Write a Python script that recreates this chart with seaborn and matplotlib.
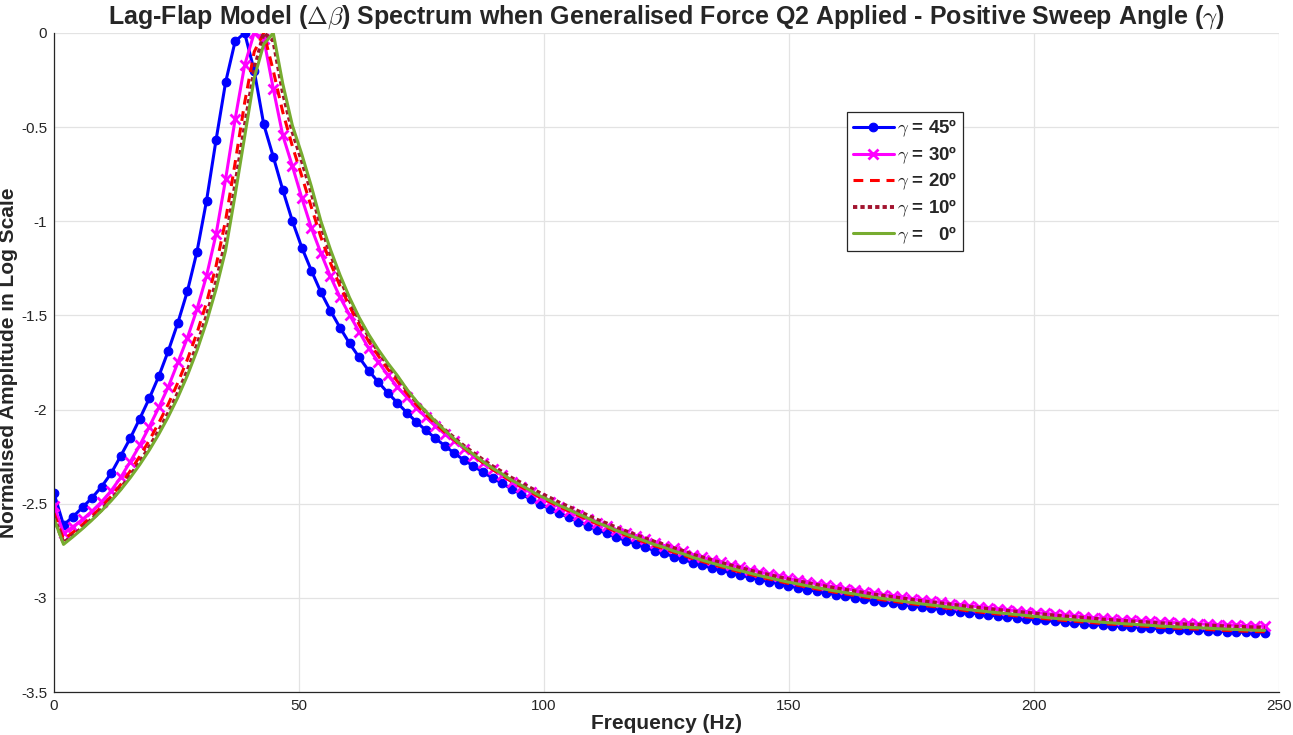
import numpy as np
import pandas as pd
import matplotlib
matplotlib.use("Agg")
import matplotlib.pyplot as plt
from matplotlib.ticker import FuncFormatter
import seaborn as sns

# Frequency bin spacing of the spectrum (Hz)
DF = 500.0 / 257.0

# Normalised log-amplitude spectra, one per sweep angle
AMP_45 = [
    -2.445, -2.613, -2.569, -2.519, -2.468, -2.409, -2.338, -2.246, -2.152, -2.048,
    -1.940, -1.822, -1.687, -1.538, -1.370, -1.161, -0.891, -0.568, -0.262, -0.044,
    0.000, -0.200, -0.485, -0.657, -0.834, -0.998, -1.140, -1.262, -1.377, -1.475,
    -1.565, -1.648, -1.722, -1.793, -1.853, -1.910, -1.963, -2.016, -2.065, -2.110,
    -2.152, -2.193, -2.232, -2.268, -2.300, -2.333, -2.363, -2.391, -2.422, -2.448,
    -2.476, -2.503, -2.526, -2.551, -2.572, -2.595, -2.616, -2.639, -2.657, -2.678,
    -2.696, -2.714, -2.731, -2.749, -2.763, -2.781, -2.795, -2.813, -2.827, -2.841,
    -2.854, -2.867, -2.879, -2.891, -2.903, -2.914, -2.925, -2.936, -2.946, -2.956,
    -2.965, -2.974, -2.983, -2.991, -2.999, -3.007, -3.015, -3.022, -3.029, -3.036,
    -3.043, -3.050, -3.056, -3.062, -3.068, -3.074, -3.080, -3.085, -3.091, -3.096,
    -3.101, -3.106, -3.111, -3.116, -3.120, -3.125, -3.129, -3.133, -3.137, -3.141,
    -3.145, -3.148, -3.152, -3.155, -3.158, -3.161, -3.164, -3.166, -3.169, -3.171,
    -3.173, -3.175, -3.177, -3.179, -3.181, -3.183, -3.185, -3.186,
]

AMP_30 = [
    -2.510, -2.657, -2.622, -2.583, -2.539, -2.489, -2.431, -2.360, -2.277, -2.189,
    -2.091, -1.988, -1.878, -1.749, -1.618, -1.467, -1.290, -1.069, -0.777, -0.458,
    -0.170, 0.000, -0.030, -0.296, -0.544, -0.706, -0.877, -1.036, -1.169, -1.293,
    -1.403, -1.497, -1.586, -1.674, -1.745, -1.816, -1.878, -1.935, -1.990, -2.041,
    -2.087, -2.130, -2.166, -2.207, -2.245, -2.282, -2.316, -2.350, -2.383, -2.413,
    -2.440, -2.468, -2.493, -2.516, -2.540, -2.562, -2.583, -2.603, -2.621, -2.638,
    -2.656, -2.673, -2.690, -2.707, -2.722, -2.737, -2.752, -2.770, -2.784, -2.798,
    -2.812, -2.825, -2.837, -2.850, -2.862, -2.873, -2.884, -2.896, -2.906, -2.916,
    -2.925, -2.934, -2.943, -2.951, -2.959, -2.968, -2.976, -2.983, -2.990, -2.997,
    -3.004, -3.012, -3.018, -3.024, -3.030, -3.036, -3.042, -3.047, -3.054, -3.059,
    -3.064, -3.069, -3.074, -3.079, -3.083, -3.088, -3.093, -3.097, -3.101, -3.105,
    -3.109, -3.112, -3.116, -3.119, -3.122, -3.125, -3.128, -3.130, -3.133, -3.136,
    -3.138, -3.140, -3.142, -3.144, -3.146, -3.148, -3.150, -3.151,
]

AMP_20 = [
    -2.550, -2.690, -2.652, -2.611, -2.566, -2.516, -2.461, -2.398, -2.326, -2.248,
    -2.163, -2.070, -1.970, -1.856, -1.733, -1.593, -1.432, -1.237, -0.995, -0.690,
    -0.370, -0.100, 0.000, -0.200, -0.420, -0.600, -0.761, -0.926, -1.085, -1.222,
    -1.344, -1.451, -1.548, -1.637, -1.713, -1.784, -1.848, -1.913, -1.973, -2.026,
    -2.075, -2.120, -2.162, -2.204, -2.242, -2.283, -2.318, -2.349, -2.382, -2.409,
    -2.438, -2.466, -2.490, -2.516, -2.538, -2.562, -2.584, -2.608, -2.627, -2.649,
    -2.668, -2.687, -2.705, -2.724, -2.739, -2.758, -2.773, -2.792, -2.807, -2.822,
    -2.836, -2.850, -2.863, -2.876, -2.889, -2.900, -2.912, -2.923, -2.933, -2.943,
    -2.953, -2.962, -2.971, -2.979, -2.987, -2.996, -3.004, -3.011, -3.018, -3.025,
    -3.032, -3.039, -3.045, -3.051, -3.057, -3.063, -3.070, -3.075, -3.081, -3.086,
    -3.091, -3.096, -3.101, -3.106, -3.111, -3.116, -3.120, -3.124, -3.128, -3.132,
    -3.137, -3.140, -3.144, -3.147, -3.150, -3.153, -3.157, -3.159, -3.162, -3.164,
    -3.166, -3.168, -3.171, -3.173, -3.175, -3.177, -3.179, -3.180,
]

AMP_10 = [
    -2.571, -2.708, -2.668, -2.626, -2.580, -2.531, -2.477, -2.418, -2.351, -2.279,
    -2.199, -2.112, -2.017, -1.911, -1.793, -1.658, -1.504, -1.323, -1.107, -0.809,
    -0.496, -0.198, 0.000, -0.040, -0.315, -0.523, -0.680, -0.848, -1.026, -1.172,
    -1.303, -1.419, -1.521, -1.611, -1.690, -1.762, -1.827, -1.897, -1.960, -2.012,
    -2.062, -2.108, -2.151, -2.193, -2.230, -2.267, -2.301, -2.331, -2.363, -2.389,
    -2.417, -2.444, -2.468, -2.494, -2.516, -2.540, -2.562, -2.586, -2.605, -2.627,
    -2.646, -2.665, -2.683, -2.702, -2.717, -2.736, -2.751, -2.770, -2.785, -2.800,
    -2.814, -2.828, -2.841, -2.854, -2.867, -2.878, -2.890, -2.901, -2.911, -2.921,
    -2.931, -2.940, -2.949, -2.957, -2.965, -2.974, -2.982, -2.989, -2.996, -3.003,
    -3.010, -3.017, -3.023, -3.029, -3.035, -3.041, -3.048, -3.053, -3.059, -3.064,
    -3.069, -3.074, -3.079, -3.084, -3.089, -3.094, -3.098, -3.102, -3.106, -3.110,
    -3.115, -3.118, -3.122, -3.125, -3.128, -3.131, -3.135, -3.137, -3.140, -3.142,
    -3.144, -3.146, -3.149, -3.151, -3.153, -3.155, -3.157, -3.158,
]

AMP_0 = [
    -2.580, -2.716, -2.675, -2.632, -2.586, -2.537, -2.484, -2.426, -2.362, -2.292,
    -2.215, -2.130, -2.037, -1.934, -1.818, -1.686, -1.535, -1.360, -1.155, -0.860,
    -0.550, -0.240, -0.060, 0.000, -0.270, -0.490, -0.645, -0.815, -1.000, -1.150,
    -1.285, -1.405, -1.510, -1.600, -1.680, -1.752, -1.818, -1.891, -1.955, -2.010,
    -2.062, -2.111, -2.157, -2.200, -2.238, -2.276, -2.311, -2.342, -2.375, -2.402,
    -2.431, -2.459, -2.483, -2.509, -2.531, -2.555, -2.577, -2.601, -2.620, -2.642,
    -2.661, -2.680, -2.698, -2.717, -2.732, -2.751, -2.766, -2.785, -2.800, -2.815,
    -2.829, -2.843, -2.856, -2.869, -2.882, -2.893, -2.905, -2.916, -2.926, -2.936,
    -2.946, -2.955, -2.964, -2.972, -2.980, -2.989, -2.997, -3.004, -3.011, -3.018,
    -3.025, -3.032, -3.038, -3.044, -3.050, -3.056, -3.063, -3.068, -3.074, -3.079,
    -3.084, -3.089, -3.094, -3.099, -3.104, -3.109, -3.113, -3.117, -3.121, -3.125,
    -3.130, -3.133, -3.137, -3.140, -3.143, -3.146, -3.150, -3.152, -3.155, -3.157,
    -3.159, -3.161, -3.164, -3.166, -3.168, -3.170, -3.172, -3.173,
]

LABELS = [r"$\gamma$ = 45º", r"$\gamma$ = 30º", r"$\gamma$ = 20º",
          r"$\gamma$ = 10º", r"$\gamma$ =   0º"]
X_TICKS = [0, 50, 100, 150, 200, 250]
Y_TICKS = [0, -0.5, -1, -1.5, -2, -2.5, -3, -3.5]

sns.set_theme(style="white")
plt.rcParams["font.family"] = ["Liberation Sans", "DejaVu Sans"]
plt.rcParams["mathtext.fontset"] = "cm"

series = [AMP_45, AMP_30, AMP_20, AMP_10, AMP_0]
styles = [
    dict(color="#0000FF", marker="o", markersize=6.2, markeredgecolor="#0000FF",
         markeredgewidth=0.8, linestyle="-"),
    dict(color="#FF00FF", marker="x", markersize=7, markeredgecolor="#FF00FF",
         markeredgewidth=2, linestyle="-"),
    dict(color="#FF0000", linestyle=(0, (3.2, 2.2))),
    dict(color="#A2142F", linestyle=(0, (1.1, 0.8)), linewidth=2.8),
    dict(color="#77AC30", linestyle="-"),
]

fig = plt.figure(figsize=(12.93, 7.35), dpi=100)
ax = fig.add_axes([54 / 1293, 1 - 692 / 735, 1225 / 1293, 659 / 735])

for amp, lab, st in zip(series, LABELS, styles):
    df = pd.DataFrame({"freq": np.arange(len(amp)) * DF, "amp": amp})
    kw = dict(linewidth=2.2)
    kw.update(st)
    sns.lineplot(data=df, x="freq", y="amp", ax=ax, label=lab, **kw)

ax.set_xlim(0, 250)
ax.set_ylim(-3.5, 0)
ax.set_xticks(X_TICKS)
ax.set_yticks(Y_TICKS)
ax.yaxis.set_major_formatter(FuncFormatter(lambda v, p: f"{v:g}"))
ax.grid(True, color="#e3e3e3", linewidth=0.9)
ax.set_axisbelow(True)
for side in ("top", "right"):
    ax.spines[side].set_visible(False)
for side in ("left", "bottom"):
    ax.spines[side].set_color("#262626")
    ax.spines[side].set_linewidth(0.9)
ax.tick_params(direction="in", length=9, width=0.9, colors="#262626",
               labelsize=11, pad=5)

ax.set_title(r"Lag-Flap Model ($\Delta\beta$) Spectrum when Generalised Force Q2 Applied - "
             r"Positive Sweep Angle ($\gamma$)",
             fontsize=18, fontweight="bold", pad=7)
ax.set_xlabel("Frequency (Hz)", fontsize=15, fontweight="bold", labelpad=1)
ax.set_ylabel("Normalised Amplitude in Log Scale", fontsize=15, fontweight="bold")
ax.yaxis.set_label_coords(-0.0295, 0.5)

leg = ax.legend(loc="upper left", bbox_to_anchor=(0.6475, 0.880),
                prop={"weight": "bold", "size": 13.5}, frameon=True,
                fancybox=False, edgecolor="#262626", framealpha=1,
                handlelength=2.2, handletextpad=0.15, labelspacing=0.27,
                borderpad=0.3, borderaxespad=0)
leg.get_frame().set_linewidth(0.9)

fig.savefig("out.png", dpi=100)
